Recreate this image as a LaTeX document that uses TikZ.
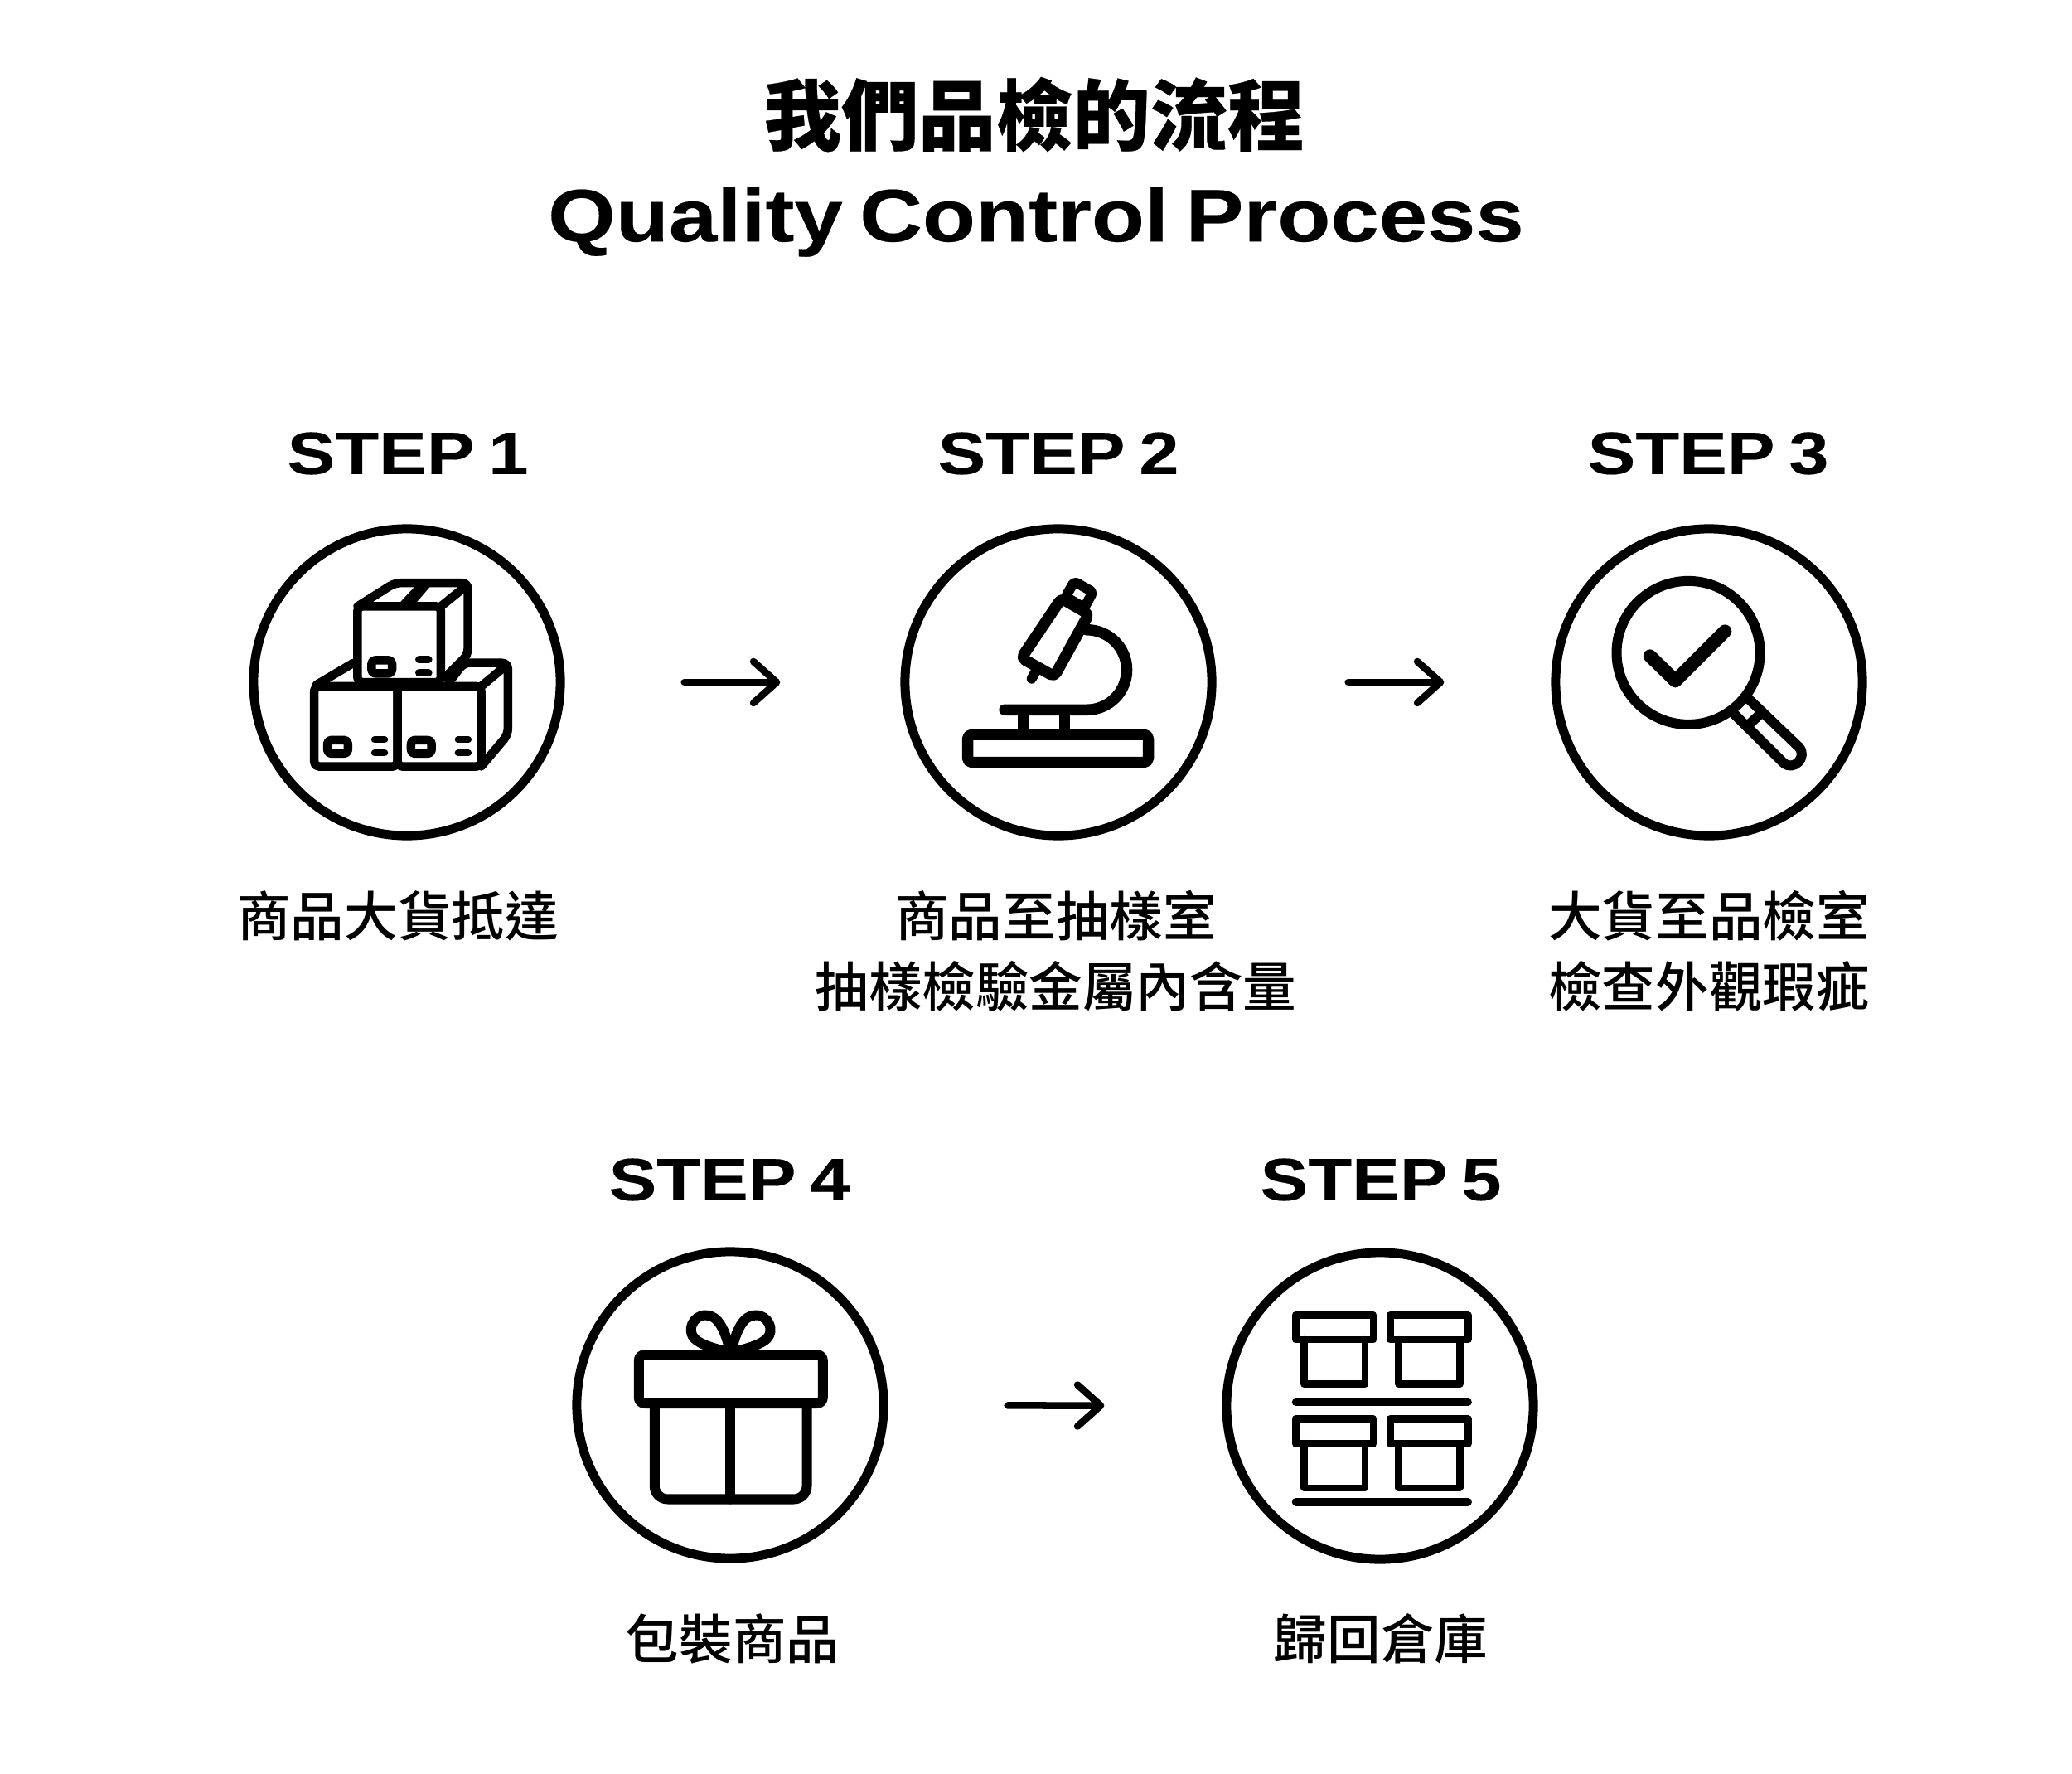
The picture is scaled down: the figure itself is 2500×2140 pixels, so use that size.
\documentclass[tikz,border=0pt]{standalone}
\usepackage{fontspec}
\usetikzlibrary{arrows.meta}
\setmainfont{Liberation Sans}
\newfontfamily\cjk{Noto Sans CJK TC Medium}
\newfontfamily\cjkblack[FakeBold=0.3]{Noto Sans CJK TC Black}
\newfontfamily\wide[FakeStretch=1.2,FakeBold=0.25,WordSpace=0.7]{Liberation Sans Bold}
\newfontfamily\widetitle[FakeStretch=1.17,FakeBold=0.25,WordSpace=0.7]{Liberation Sans Bold}
\tikzset{
  ring/.style={circle,draw,line width=1.1mm,minimum size=3.7cm,inner sep=0pt},
  steplabel/.style={font=\wide\fontsize{20.5}{26}\selectfont},
  note/.style={anchor=north,align=center,font=\cjk\fontsize{18.35}{24}\selectfont},
  flow/.style={line width=.85mm,line cap=round,-{Straight Barb[length=2.8mm,width=5mm,round]}},
  ico/.style={line width=#1,line join=round,line cap=round},
  ico/.default=1.05mm
}
\begin{document}
\begin{tikzpicture}[x=0.01cm,y=-0.01cm]
    \useasboundingbox (0,0) rectangle (2500,2140);

    \node (title) at (1248,138) {\cjkblack\fontsize{26.5}{30}\selectfont 我們品檢的流程};
    \node (subtitle) at (1250,268) {\widetitle\fontsize{25.5}{32}\selectfont Quality Control Process};

    \node[ring] (c1) at (491,823) {};
    \node[ring] (c2) at (1277,823) {};
    \node[ring] (c3) at (2062,823) {};
    \node[ring] (c4) at (881,1695) {};
    \node[ring] (c5) at (1665,1696) {};

    \node[steplabel] (step1) at (492,547) {STEP 1};
    \node[steplabel] (step2) at (1277,547) {STEP 2};
    \node[steplabel] (step3) at (2061,547) {STEP 3};
    \node[steplabel] (step4) at (880,1423) {STEP 4};
    \node[steplabel] (step5) at (1666,1423) {STEP 5};

    \node[note] (note1) at (480,1062) {商品大貨抵達};
    \node[note] (note2) at (1274,1062) {商品至抽樣室\\抽樣檢驗金屬內含量};
    \node[note] (note3) at (2062,1062) {大貨至品檢室\\檢查外觀瑕疵};
    \node[note] (note4) at (884,1934) {包裝商品};
    \node[note] (note5) at (1666,1934) {歸回倉庫};

    \draw[flow,shorten <=1.44cm,shorten >=1.45cm] (c1) -- (c2);
    \draw[flow,shorten <=1.59cm,shorten >=1.29cm] (c2) -- (c3);
    \draw[flow,shorten <=1.44cm,shorten >=1.42cm] (c4) -- (c5);

    % cartons
    \begin{scope}[shift={(280,620)},x=0.00333cm,y=-0.00333cm,ico]
        \draw[rounded corners=1.5] (298,625) rectangle (600,915);
        \draw[rounded corners=1.5] (600,625) rectangle (903,915);
        \draw[rounded corners=2] (785,612) -- (840,540) -- (1000,540) -- (1000,800) -- (903,915);
        \draw (995,548) -- (903,625);
        \draw (305,620) -- (440,540);
        \draw[rounded corners=1.5] (455,335) rectangle (757,610);
        \draw[rounded corners=2] (455,335) -- (590,250) -- (855,250) -- (855,510) -- (775,590);
        \draw (850,260) -- (757,335);
        \fill (605,325) -- (665,325) -- (725,255) -- (670,255) -- cycle;
        \foreach \dx/\dy in {0/0,303/0,160/-290} {
            \draw[rounded corners=1.2] (346+\dx,820+\dy) rectangle (420+\dx,868+\dy);
            \draw[line width=.85mm] (517+\dx,818+\dy) -- (553+\dx,818+\dy);
            \draw[line width=.85mm] (517+\dx,866+\dy) -- (553+\dx,866+\dy);
        }
    \end{scope}

    % microscope
    \begin{scope}[shift={(1070,620)},x=0.00333cm,y=-0.00333cm,ico=1.35mm]
        \draw[rounded corners=1.5] (293,800) rectangle (948,900);
        \draw (495,730) -- (495,800);
        \draw (645,730) -- (645,800);
        \draw (427,710) -- (725,710) arc[start angle=90,end angle=-90,radius=145];
        \draw[rounded corners=1.5] (633,306) -- (732,363) -- (607,589) -- (488,522) -- cycle;
        \draw[rounded corners=1,line width=1.2mm] (680,245) -- (747,283) -- (716,340) -- (648,300) -- cycle;
        \draw[line width=1.2mm] (525,597) -- (538,574);
    \end{scope}

    % magnifier
    \begin{scope}[shift={(1860,620)},x=0.00333cm,y=-0.00333cm,ico=1.2mm]
        \draw (532,503) circle[radius=260];
        \draw[line width=1.6mm] (393,515) -- (485,605) -- (665,425);
        \draw (698,725) -- (877,902) .. controls (915,935) and (965,880) .. (933,845) -- (750,670);
        \draw (745,770) -- (800,718);
    \end{scope}

    % gift
    \begin{scope}[shift={(670,1490)},x=0.00333cm,y=-0.00333cm,ico=1.2mm]
        \draw[rounded corners=2] (303,433) rectangle (970,610);
        \draw[rounded corners=4.5] (360,610) -- (360,957) -- (912,957) -- (912,610);
        \draw (635,610) -- (635,957);
        \draw (635,425) .. controls (615,340) and (590,290) .. (545,290)
              .. controls (500,290) and (475,345) .. (505,375) .. controls (525,395) and (570,410) .. (635,425);
        \draw (637,425) .. controls (657,340) and (682,290) .. (727,290)
              .. controls (772,290) and (797,345) .. (767,375) .. controls (747,395) and (702,410) .. (637,425);
    \end{scope}

    % shelf
    \begin{scope}[shift={(1460,1490)},x=0.00333cm,y=-0.00333cm,ico=.87mm]
        \foreach \dx/\dy in {0/0,343/0,0/376,343/376} {
            \draw (310+\dx,290+\dy) rectangle (592+\dx,379+\dy);
            \draw (341+\dx,379+\dy) -- (341+\dx,540+\dy) -- (562+\dx,540+\dy) -- (562+\dx,379+\dy);
        }
        \draw[line width=.95mm] (311,605) -- (935,605);
        \draw[line width=.95mm] (311,967) -- (935,967);
    \end{scope}
\end{tikzpicture}
\end{document}
